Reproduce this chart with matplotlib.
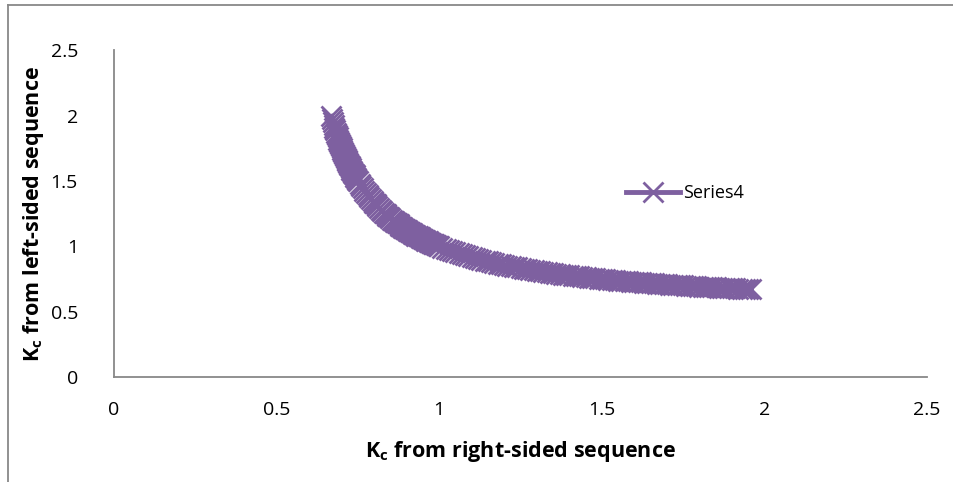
import matplotlib
matplotlib.use("Agg")
import matplotlib.pyplot as plt
from matplotlib.lines import Line2D

# K_c from right-sided sequence
kc_right = [0.6675, 0.670, 0.6725, 0.675, 0.6775, 0.680, 0.6825, 0.685, 0.6875,
            0.690, 0.6925, 0.695, 0.6975, 0.700, 0.7025, 0.705, 0.7075, 0.710, 0.7125,
            0.715, 0.7175, 0.720, 0.7225, 0.725, 0.7275, 0.730, 0.7325, 0.735, 0.7375,
            0.740, 0.7425, 0.745, 0.7475, 0.750, 0.755, 0.760, 0.765, 0.770, 0.775,
            0.780, 0.785, 0.790, 0.795, 0.80, 0.805, 0.81, 0.815, 0.82, 0.825,
            0.83, 0.835, 0.84, 0.845, 0.85, 0.855, 0.86, 0.865, 0.87, 0.875,
            0.88, 0.885, 0.89, 0.895, 0.90, 0.905, 0.91, 0.915, 0.92, 0.925,
            0.93, 0.935, 0.94, 0.945, 0.95, 0.955, 0.96, 0.965, 0.97, 0.975,
            0.98, 0.985, 0.99, 0.995,
            1.00, 1.01, 1.02, 1.03, 1.04, 1.05, 1.06, 1.07, 1.08, 1.09,
            1.10, 1.11, 1.12, 1.13, 1.14, 1.15, 1.16, 1.17, 1.18, 1.19,
            1.20, 1.21, 1.22, 1.23, 1.24, 1.25, 1.26, 1.27, 1.28, 1.29,
            1.30, 1.31, 1.32, 1.33, 1.34, 1.35, 1.36, 1.37, 1.38, 1.39,
            1.40, 1.41, 1.42, 1.43, 1.44, 1.45, 1.46, 1.47, 1.48, 1.49,
            1.50, 1.51, 1.52, 1.53, 1.54, 1.55, 1.56, 1.57, 1.58, 1.59,
            1.60, 1.61, 1.62, 1.63, 1.64, 1.65, 1.66, 1.67, 1.68, 1.69,
            1.70, 1.71, 1.72, 1.73, 1.74, 1.75, 1.76, 1.77, 1.78, 1.79,
            1.80, 1.81, 1.82, 1.83, 1.84, 1.85, 1.86, 1.87, 1.88, 1.89,
            1.90, 1.91, 1.92, 1.93, 1.94, 1.95, 1.96]
# K_c from left-sided sequence
kc_left = [1.993, 1.971, 1.949, 1.929, 1.908, 1.889, 1.870, 1.851, 1.833,
           1.816, 1.799, 1.782, 1.766, 1.750, 1.735, 1.720, 1.705, 1.690, 1.676,
           1.663, 1.649, 1.636, 1.624, 1.611, 1.599, 1.587, 1.575, 1.564, 1.553,
           1.542, 1.531, 1.520, 1.510, 1.500, 1.480, 1.462, 1.443, 1.426, 1.409,
           1.393, 1.377, 1.362, 1.347, 1.333, 1.320, 1.306, 1.294, 1.281, 1.269,
           1.258, 1.246, 1.235, 1.225, 1.214, 1.204, 1.194, 1.185, 1.176, 1.167,
           1.158, 1.149, 1.141, 1.133, 1.125, 1.117, 1.110, 1.102, 1.095, 1.088,
           1.081, 1.075, 1.068, 1.062, 1.056, 1.049, 1.043, 1.037, 1.032, 1.026,
           1.021, 1.015, 1.010, 1.005,
           1.000, 0.990, 0.981, 0.972, 0.963, 0.955, 0.946, 0.939, 0.931, 0.924,
           0.917, 0.910, 0.903, 0.897, 0.891, 0.885, 0.879, 0.873, 0.868, 0.862,
           0.857, 0.852, 0.847, 0.842, 0.838, 0.833, 0.829, 0.825, 0.821, 0.816,
           0.813, 0.809, 0.805, 0.801, 0.798, 0.794, 0.791, 0.787, 0.784, 0.781,
           0.778, 0.775, 0.772, 0.769, 0.766, 0.763, 0.760, 0.758, 0.755, 0.753,
           0.750, 0.748, 0.745, 0.743, 0.740, 0.738, 0.736, 0.734, 0.731, 0.729,
           0.727, 0.725, 0.723, 0.721, 0.719, 0.717, 0.716, 0.714, 0.712, 0.710,
           0.708, 0.707, 0.705, 0.703, 0.702, 0.700, 0.698, 0.697, 0.695, 0.694,
           0.692, 0.691, 0.689, 0.688, 0.687, 0.685, 0.684, 0.682, 0.681, 0.680,
           0.679, 0.677, 0.676, 0.675, 0.674, 0.672, 0.671]

ticks = [0, 0.5, 1, 1.5, 2, 2.5]
tick_labels = ["0", "0.5", "1", "1.5", "2", "2.5"]

plt.rcParams['font.family'] = ['Open Sans', 'DejaVu Sans']
plt.rcParams['mathtext.fontset'] = 'custom'
plt.rcParams['mathtext.bf'] = 'Open Sans:bold'
plt.rcParams['mathtext.rm'] = 'Open Sans'

purple = '#7E60A0'

fig = plt.figure(figsize=(9.54, 4.82), dpi=100)
ax = fig.add_axes([0.1195, 0.2178, 0.8522, 0.6782])

ax.plot(kc_right, kc_left, color=purple, lw=3.5, marker='x',
        markersize=14, markeredgewidth=2.0, label='Series4')

ax.set_xlim(0, 2.5)
ax.set_ylim(0, 2.5)
ax.set_xticks(ticks)
ax.set_xticklabels(tick_labels)
ax.set_yticks(ticks)
ax.set_yticklabels(tick_labels)
ax.tick_params(length=0, labelsize=14)
ax.tick_params(axis='x', pad=17)
ax.tick_params(axis='y', pad=26)

for s in ['top', 'right']:
    ax.spines[s].set_visible(False)
for s in ['left', 'bottom']:
    ax.spines[s].set_color('#888888')
    ax.spines[s].set_linewidth(1.3)

ax.set_xlabel(r"$\mathbf{K_c}$ from right-sided sequence", fontsize=15.5,
              fontweight='bold', labelpad=15)
ax.set_ylabel(r"$\mathbf{K_c}$ from left-sided sequence", fontsize=15.5,
              fontweight='bold', labelpad=3)

ax.legend(loc='center left', bbox_to_anchor=(0.63, 0.563), frameon=False,
          fontsize=13, handlelength=3.0, handletextpad=0.15,
          borderpad=0, borderaxespad=0)

# outer chart border (partially visible)
fig.add_artist(Line2D([8 / 954, 8 / 954], [0, 1 - 5 / 482], color='#888888', lw=1.3))
fig.add_artist(Line2D([8 / 954, 1], [1 - 5 / 482, 1 - 5 / 482], color='#888888', lw=1.3))

fig.savefig("out.png", dpi=100)
